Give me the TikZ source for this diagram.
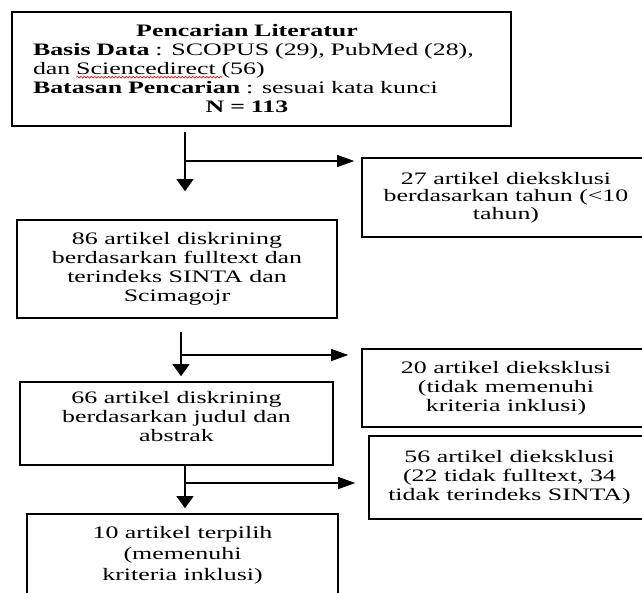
\documentclass[tikz,border=0pt]{standalone}
\usepackage{fontspec}
\setmainfont{Liberation Serif}[FakeStretch=1.48]
\usetikzlibrary{arrows.meta, calc, positioning, decorations.pathmorphing}
\tikzset{
	flowchart/.style={x=1pt,y=-1pt},
	block/.style={
		rectangle,
		draw=black, line width=1.6pt,
		text=black,
		font=\fontsize{17.5pt}{19pt}\selectfont,
		inner sep=0pt,
		align=center
	},
	flow/.style={black, line width=1.1pt},
	vflow/.style={flow, -{Triangle[length=12pt,width=17pt]}},
	hflow/.style={flow, -{Triangle[length=17pt,width=12pt]}},
	spellmark/.style={red, line width=0.6pt, decorate, decoration={snake, amplitude=0.9pt, segment length=3.5pt}}
}

\begin{document}
\begin{tikzpicture}[flowchart]

	\useasboundingbox (0,0) rectangle (642,592);

	\node (lit)	[block, minimum width=499pt, minimum height=114pt, text width=457pt, align=left] at (261.5,69)
	{\makebox[428pt]{\textbf{Pencarian Literatur}}\\
	 \textbf{Basis Data} : SCOPUS (29), PubMed (28),\\
	 dan Sciencedirect (56)\\
	 \textbf{Batasan Pencarian} : sesuai kata kunci\\
	 \makebox[428pt]{\textbf{N = 113}}};

	\node (ex1)	[block, minimum width=288pt, minimum height=79pt, font=\fontsize{17.5pt}{17.5pt}\selectfont] at (506,197.5)
	{27 artikel dieksklusi\\ berdasarkan tahun (<10\\ tahun)};

	\node (s1)	[block, minimum width=320pt, minimum height=98pt] at (177,269)
	{86 artikel diskrining\\ berdasarkan fulltext dan\\ terindeks SINTA dan\\ Scimagojr};

	\node (ex2)	[block, minimum width=288pt, minimum height=78pt] at (506,388)
	{20 artikel dieksklusi\\ (tidak memenuhi\\ kriteria inklusi)};

	\node (s2)	[block, minimum width=313pt, minimum height=83pt, text depth=14pt] at (176.5,423.5)
	{66 artikel diskrining\\ berdasarkan judul dan\\ abstrak};

	\node (ex3)	[block, minimum width=281pt, minimum height=83pt] at (509.5,477.5)
	{56 artikel dieksklusi\\ (22 tidak fulltext, 34\\ tidak terindeks SINTA)};

	\node (fin)	[block, minimum width=311pt, minimum height=83pt, font=\fontsize{17.5pt}{21pt}\selectfont] at (182.5,555.5)
	{10 artikel terpilih\\ (memenuhi\\ kriteria inklusi)};

	%% wavy spell-check line under Sciencedirect
	\draw[spellmark] ($(lit.north west)+(65,66)$) -- ($(lit.north west)+(211,66)$);

	\coordinate (tap1)	at (185,161);
	\coordinate (tap2)	at (181,355);
	\coordinate (tap3)	at (185,483);

	\draw[vflow, shorten <=5pt, shorten >=28pt] (lit.south -| tap1) -- (s1.north -| tap1);
	\draw[hflow, shorten >=7pt] (tap1) -- (ex1.west |- tap1);

	\draw[vflow, shorten <=13pt, shorten >=5pt] (s1.south -| tap2) -- (s2.north -| tap2);
	\draw[hflow, shorten >=13pt] (tap2) -- (ex2.west |- tap2);

	\draw[vflow, shorten >=5pt] (s2.south -| tap3) -- (fin.north -| tap3);
	\draw[hflow, shorten >=13pt] (tap3) -- (ex3.west |- tap3);

\end{tikzpicture}
\end{document}
